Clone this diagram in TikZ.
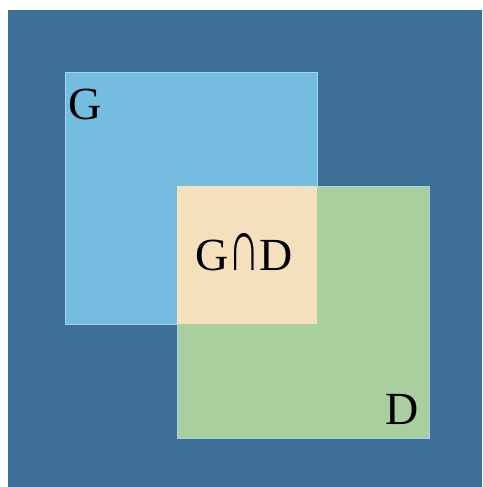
\documentclass[tikz,border=0pt]{standalone}
\usepackage{fontspec}
\setmainfont{Liberation Serif}
\definecolor{bgblue}{HTML}{3C7096}
\definecolor{setg}{HTML}{74BCE0}
\definecolor{setd}{HTML}{AACF9E}
\definecolor{inter}{HTML}{F5E0BE}
\definecolor{edge}{HTML}{A8D4EA}
\newcommand{\tallcap}{\scalebox{0.95}[1.6]{∩}}
\begin{document}
\begin{tikzpicture}[x=1pt,y=-1pt,
  setbox/.style={draw=edge,line width=0.8pt},
  lbl/.style={inner sep=0pt,font=\fontsize{46}{46}\selectfont}]
\useasboundingbox (0,0) rectangle (482,487);
% background panel
\fill[bgblue] (8,10) rectangle (482,487);
% the two sets
\path[setbox,fill=setg] (65,72) rectangle (317,324);
\path[setbox,fill=setd] (177,186) rectangle (429,438);
% their overlap
\fill[inter] (177.4,186.4) rectangle (316.6,323.6);
% labels
\node[lbl] (g) at (85,104) {G};
\node[lbl] (gd) at (244,252) {G\tallcap D};
\node[lbl] (d) at (402,409) {D};
\end{tikzpicture}
\end{document}
